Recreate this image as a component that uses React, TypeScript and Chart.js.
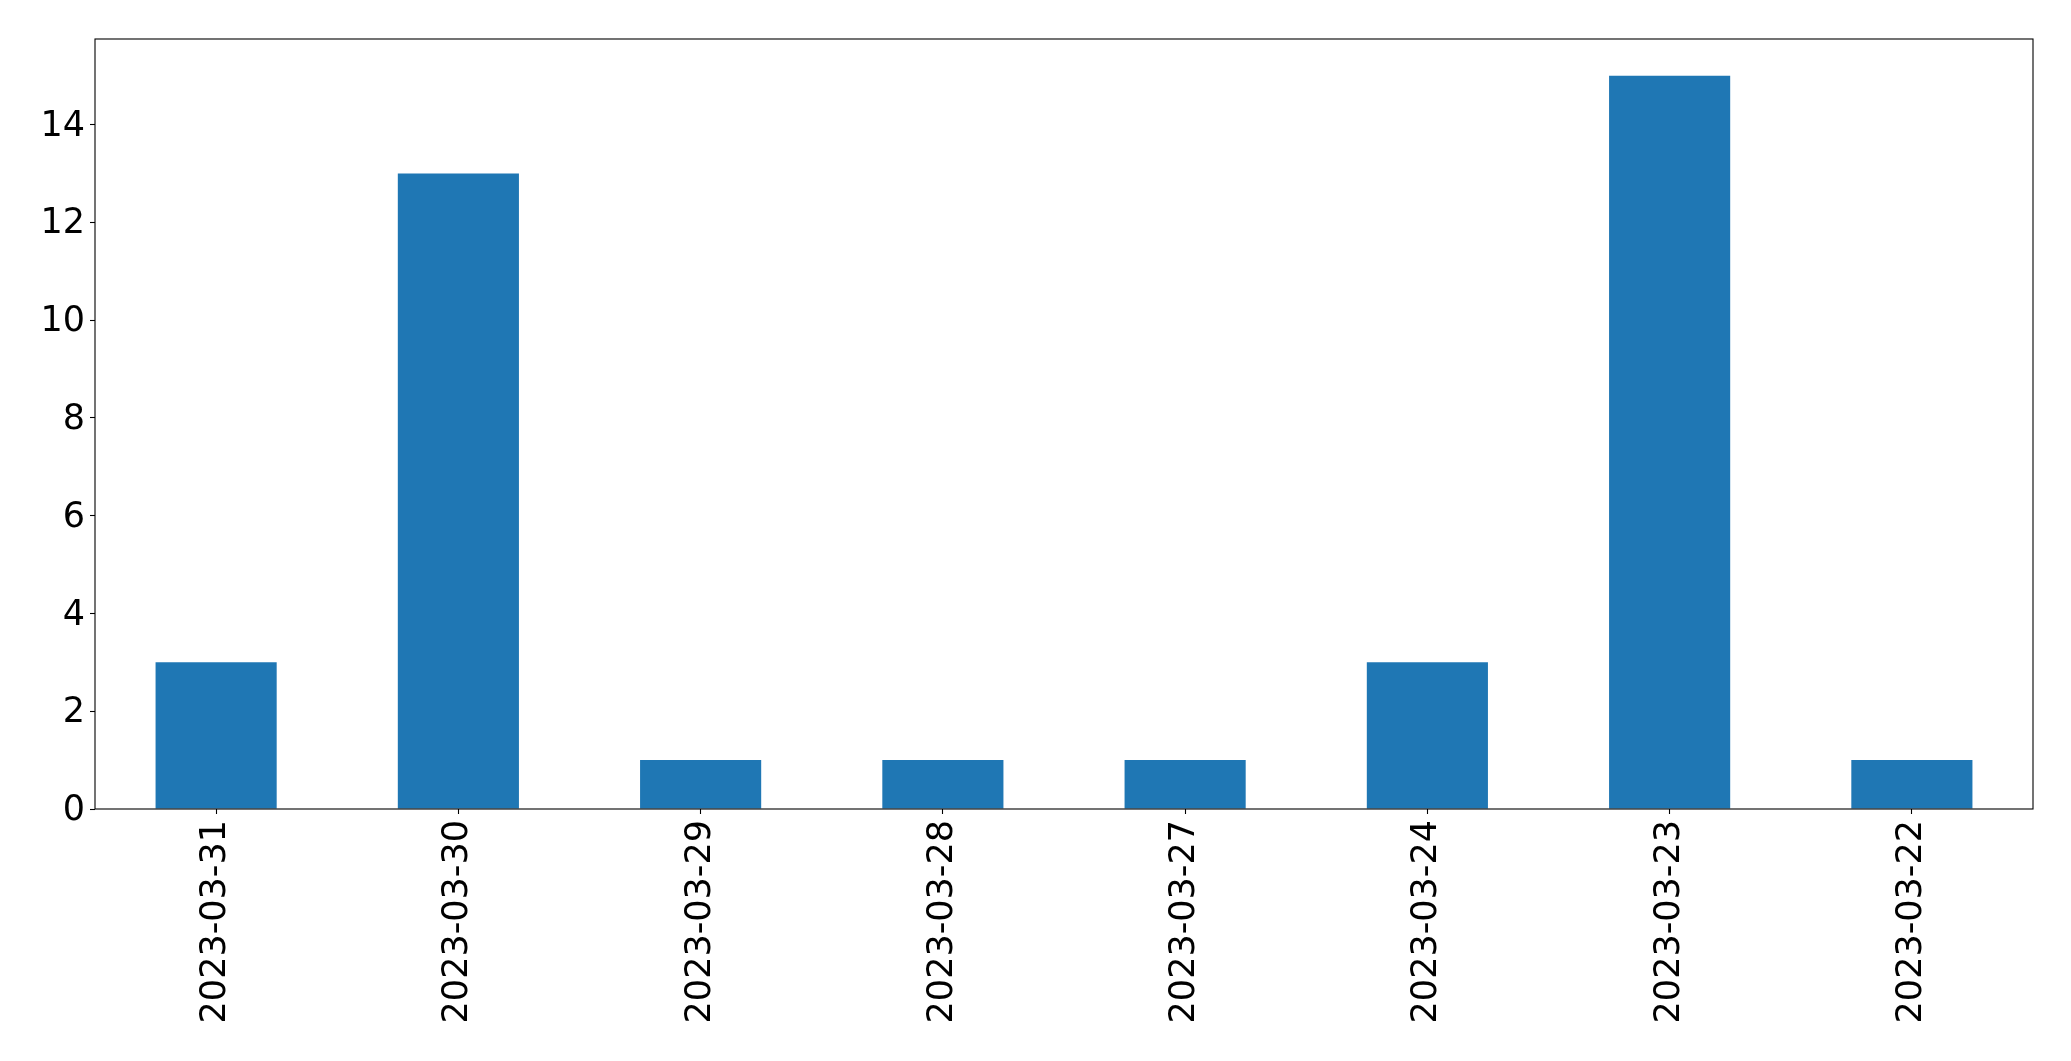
import React, { useEffect, useRef } from "react";
import { Chart, registerables } from "chart.js";

Chart.register(...registerables);

const categories = [
  "2023-03-31",
  "2023-03-30",
  "2023-03-29",
  "2023-03-28",
  "2023-03-27",
  "2023-03-24",
  "2023-03-23",
  "2023-03-22",
];
const counts = [3, 13, 1, 1, 1, 3, 15, 1];
const yTickValues = [0, 2, 4, 6, 8, 10, 12, 14];
const yMax = 15.75;

const FONT = "'DejaVu Sans', sans-serif";

const frame = {
  id: "frame",
  afterDraw(chart: any) {
    const { ctx, chartArea } = chart;
    ctx.save();
    ctx.strokeStyle = "#000";
    ctx.lineWidth = 1.1;
    ctx.strokeRect(chartArea.left, chartArea.top, chartArea.right - chartArea.left, chartArea.bottom - chartArea.top);
    ctx.restore();
  },
};

export default function App() {
  const ref = useRef<HTMLCanvasElement>(null);
  useEffect(() => {
    const chart = new Chart(ref.current!, {
      type: "bar",
      data: {
        labels: categories,
        datasets: [
          {
            data: counts,
            backgroundColor: "#1f77b4",
            barPercentage: 0.5,
            categoryPercentage: 1,
          },
        ],
      },
      options: {
        animation: false,
        responsive: false,
        devicePixelRatio: 1,
        layout: { padding: { top: 39, right: 38, left: 0, bottom: 0 } },
        plugins: { legend: { display: false }, tooltip: { enabled: false } },
        scales: {
          x: {
            offset: true,
            grid: { offset: false, drawOnChartArea: false, tickLength: 5, color: "#000", tickWidth: 1.1 },
            border: { display: false },
            ticks: {
              color: "#000",
              font: { family: FONT, size: 35 },
              minRotation: 90,
              maxRotation: 90,
              padding: 6,
              autoSkip: false,
            },
            afterFit: (s: any) => {
              s.height = 252;
            },
          },
          y: {
            min: 0,
            max: yMax,
            grid: { drawOnChartArea: false, tickLength: 5, color: "#000", tickWidth: 1.1 },
            border: { display: false },
            ticks: {
              color: "#000",
              font: { family: FONT, size: 35 },
              padding: 5,
              stepSize: 2,
              labelOffset: 2,
            },
            afterBuildTicks: (s: any) => {
              s.ticks = yTickValues.map((v) => ({ value: v }));
            },
            afterFit: (s: any) => {
              s.width = 95;
            },
          },
        },
      },
      plugins: [frame],
    });
    return () => chart.destroy();
  }, []);
  return (
    <div style={{ position: "fixed", left: 0, top: 0, width: 2071, height: 1061, background: "#fff" }}>
      <canvas ref={ref} width={2071} height={1061} style={{ width: 2071, height: 1061 }} />
    </div>
  );
}
